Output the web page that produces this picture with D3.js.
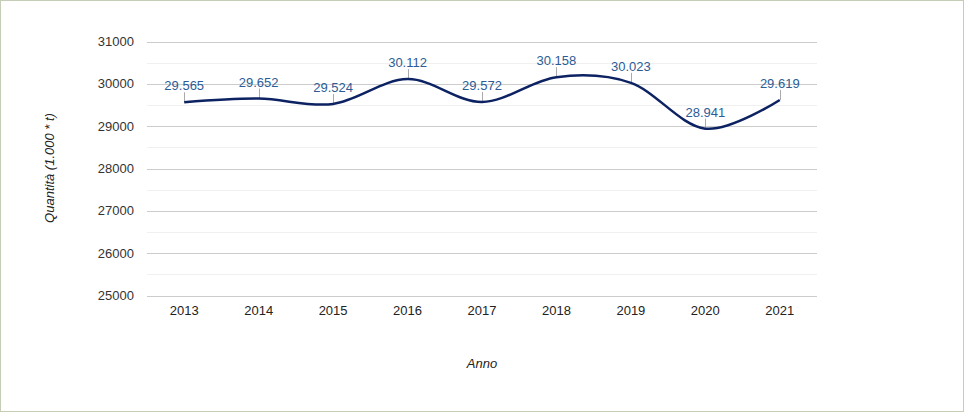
<!DOCTYPE html>
<html><head><meta charset="utf-8">
<script src="https://cdn.jsdelivr.net/npm/d3@7"></script>
<style>body{margin:0;background:#fff}svg{display:block;font-family:Arial,"Liberation Sans",sans-serif}</style>
</head><body><svg id="c" width="964" height="412"></svg>
<script>
const years = ["2013","2014","2015","2016","2017","2018","2019","2020","2021"];
const values = [29565, 29652, 29524, 30112, 29572, 30158, 30023, 28941, 29619];
const yTicks = [25000, 26000, 27000, 28000, 29000, 30000, 31000];
const yMinor = [25500, 26500, 27500, 28500, 29500, 30500];
const xTitle = "Anno";
const yTitle = "Quantità (1.000 * t)";

const svg = d3.select("#c");
svg.append("rect").attr("x",0.5).attr("y",0.5).attr("width",963).attr("height",411)
  .attr("fill","#fff").attr("stroke","#c5cdb6");

const L=147, R=817, T=41.5, B=295.5;
const x = d3.scalePoint().domain(years).range([L,R]).padding(0.5);
const y = d3.scaleLinear().domain([25000,31000]).range([B,T]);

svg.append("g").selectAll("line").data(yMinor).join("line")
  .attr("x1",L).attr("x2",R).attr("y1",d=>Math.round(y(d))+0.5).attr("y2",d=>Math.round(y(d))+0.5)
  .attr("stroke","#f0f0f0");
svg.append("g").selectAll("line").data(yTicks).join("line")
  .attr("x1",L).attr("x2",R).attr("y1",d=>Math.round(y(d))+0.5).attr("y2",d=>Math.round(y(d))+0.5)
  .attr("stroke","#cccccc");

svg.append("g").selectAll("text").data(yTicks).join("text")
  .attr("x",134).attr("y",d=>y(d)).attr("dy","0.35em").attr("text-anchor","end")
  .attr("font-size",13).attr("fill","#333").text(d=>d);

svg.append("g").selectAll("text").data(years).join("text")
  .attr("x",d=>x(d)).attr("y",315).attr("text-anchor","middle")
  .attr("font-size",13).attr("fill","#222").text(d=>d);

svg.append("text").attr("x",482).attr("y",368).attr("text-anchor","middle")
  .attr("font-size",13).attr("font-style","italic").attr("fill","#222").text(xTitle);
svg.append("text").attr("transform","translate(54,168) rotate(-90)").attr("text-anchor","middle")
  .attr("font-size",13).attr("font-style","italic").attr("fill","#222").text(yTitle);

const pts = years.map((yr,i)=>[x(yr), y(values[i])]);
const fmt = d3.formatLocale({decimal:",",thousands:".",grouping:[3],currency:["€",""]}).format(",d");

svg.append("g").selectAll("line").data(pts).join("line")
  .attr("x1",d=>Math.round(d[0])+0.5).attr("x2",d=>Math.round(d[0])+0.5)
  .attr("y1",d=>d[1]).attr("y2",d=>d[1]-10).attr("stroke","#aaa");

svg.append("path").datum(pts).attr("d",d3.line().curve(d3.curveCatmullRom.alpha(0)))
  .attr("fill","none").attr("stroke","#0c2262").attr("stroke-width",2.5);

svg.append("g").selectAll("text").data(pts).join("text")
  .attr("x",d=>d[0]).attr("y",d=>d[1]-12).attr("text-anchor","middle")
  .attr("font-size",13).attr("fill","#2b5c96").text((d,i)=>fmt(values[i]));
</script></body></html>
